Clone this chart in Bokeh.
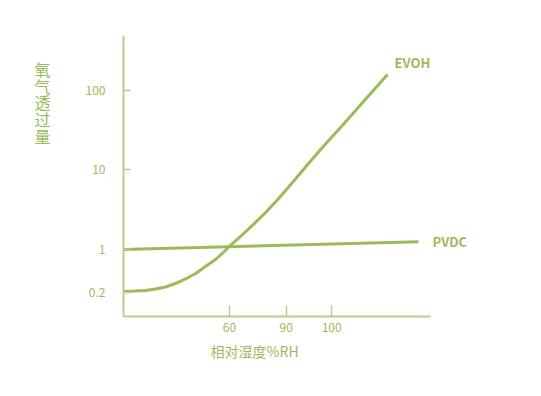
import math
from bokeh.plotting import figure
from bokeh.models import Range1d, FixedTicker, Label, LinearAxis
from bokeh.embed import file_html
from bokeh.resources import INLINE

# ---- data (schematic chart; x = position along the humidity axis, % of axis length) ----
x_tick_pos = [34.5, 53.0, 67.8]
x_tick_labels = ["60", "90", "100"]
y_tick_values = [0.2, 1, 10, 100]
y_tick_labels = ["0.2", "1", "10", "100"]

evoh_x = [0, 3.9, 7.2, 10.4, 13.7, 16.9, 20.2, 23.5, 26.7, 30.0, 32.2, 34.2, 36.5,
          39.7, 43.0, 46.3, 49.5, 52.8, 56.0, 59.3, 62.5, 65.8, 70.7, 75.6, 80.5, 86.0]
evoh_v = [0.207, 0.211, 0.215, 0.227, 0.245, 0.279, 0.331, 0.406, 0.528, 0.687, 0.861,
          1.07, 1.28, 1.66, 2.19, 2.92, 3.95, 5.52, 7.71, 10.9, 15.2, 21.2, 34.3, 56.0,
          91.6, 159]

pvdc_x = [0, 96.1]
pvdc_v = [1.0, 1.25]

y_title = "氧\n气\n透\n过\n量"
x_title = "相对湿度%RH"

GREEN = "#9bbb59"
AXIS = "#b5d08c"
FONT = "Noto Sans CJK SC"
LOW_SPAN = 0.54  # axis distance (decades) the chart gives to the 0.2 -> 1 step


def pos(v):
    """schematic oxygen-permeability axis: log for >=1, compressed below 1"""
    lv = math.log10(v)
    if lv >= 0:
        return lv
    return lv * LOW_SPAN / -math.log10(0.2)


p = figure(width=541, height=396, output_backend="svg", toolbar_location=None,
           min_border_left=123, min_border_right=111, min_border_top=35,
           min_border_bottom=80, x_range=Range1d(0, 100),
           y_range=Range1d(-0.843, 2.692))
p.outline_line_color = None
p.xgrid.visible = False
p.ygrid.visible = False
p.background_fill_color = "white"
p.border_fill_color = "white"

for ax in (p.xaxis[0], p.yaxis[0]):
    ax.axis_line_color = AXIS
    ax.axis_line_width = 2
    ax.major_tick_line_color = AXIS
    ax.major_tick_line_width = 1.5
    ax.minor_tick_line_color = None
    ax.major_tick_out = 0
    ax.major_label_text_color = GREEN
    ax.major_label_text_font = FONT
    ax.major_label_text_font_size = "12px"

p.xaxis.ticker = FixedTicker(ticks=x_tick_pos)
p.xaxis.major_label_overrides = {t: l for t, l in zip(x_tick_pos, x_tick_labels)}
p.xaxis.major_tick_in = 11
p.xaxis.major_label_standoff = 6

y_ticks = [pos(v) for v in y_tick_values]
p.yaxis.ticker = FixedTicker(ticks=y_ticks)
p.yaxis.major_label_overrides = {t: l for t, l in zip(y_ticks, y_tick_labels)}
p.yaxis.major_tick_in = 7
p.yaxis.major_label_standoff = 18


def title_axis(tick, text, standoff, size, bold=False, line_height=1.07):
    ax = LinearAxis(ticker=FixedTicker(ticks=[tick]),
                    major_label_overrides={tick: text})
    ax.axis_line_color = None
    ax.major_tick_line_color = None
    ax.minor_tick_line_color = None
    ax.major_tick_in = 0
    ax.major_tick_out = 0
    ax.major_label_standoff = standoff
    ax.major_label_text_color = GREEN
    ax.major_label_text_font = FONT
    ax.major_label_text_font_size = size
    ax.major_label_text_line_height = line_height
    ax.major_label_orientation = "horizontal"
    if bold:
        ax.major_label_text_font_style = "bold"
    return ax


# axis titles and the PVDC tag, laid out in the side panels
p.add_layout(title_axis(1.85, y_title, 32, "16px", line_height=0.69), "left")
p.add_layout(title_axis(42.7, x_title, 6, "14px"), "below")
p.add_layout(title_axis(pos(pvdc_v[-1]), "PVDC", 2, "13px", bold=True), "right")

p.line(evoh_x, [pos(v) for v in evoh_v], line_color=GREEN, line_width=3)
p.line(pvdc_x, [pos(v) for v in pvdc_v], line_color=GREEN, line_width=3)

p.add_layout(Label(x=88.3, y=pos(159) + 0.15, text="EVOH", text_color=GREEN,
                   text_font=FONT, text_font_size="13px",
                   text_font_style="bold", text_align="left", text_baseline="middle"))

open("out.html", "w").write(file_html(p, INLINE))
